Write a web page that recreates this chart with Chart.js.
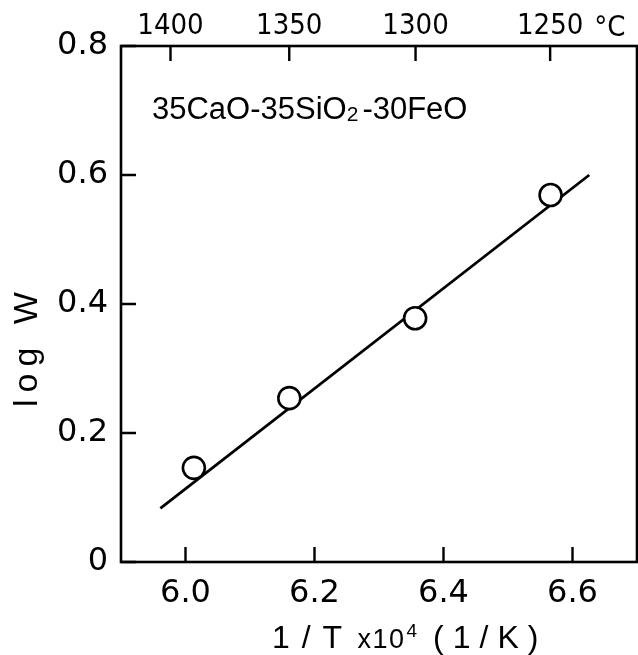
<!DOCTYPE html>
<html>
<head>
<meta charset="utf-8">
<title>log W vs 1/T</title>
<script src="https://cdn.jsdelivr.net/npm/chart.js@4.4.1/dist/chart.umd.min.js"></script>
<style>
  html, body { margin: 0; padding: 0; background: #fff; }
  canvas { display: block; }
</style>
</head>
<body>
<canvas id="arrheniusChart" width="638" height="655"></canvas>
<script>
// measured points: 1/T x10^4 (1/K) against log W
const invTemp = [6.013, 6.161, 6.356, 6.566];
const logW = [0.146, 0.254, 0.378, 0.569];

// ends of the fitted straight line
const fitInvTemp = [5.961, 6.626];
const fitLogW = [0.083, 0.600];

// tick values
const xTicks = [6.0, 6.2, 6.4, 6.6];
const yTicks = [0, 0.2, 0.4, 0.6, 0.8];
const tempTicksC = [1400, 1350, 1300, 1250];

const tickFont = { family: "'DejaVu Sans', sans-serif", size: 32 };
const topFont = { family: "'Liberation Sans Narrow', 'DejaVu Sans Condensed', 'Liberation Sans', sans-serif", size: 29 };
const TICK_LEN = 15;

function toInvTemp(c) {
    return 1e4 / (c + 273.15);
}

// draws a row of text pieces one after another (for sub/superscripts)
function drawRuns(ctx, x, y, runs) {
    runs.forEach(r => {
        ctx.font = r.size + "px 'Liberation Sans', sans-serif";
        ctx.letterSpacing = (r.spacing || 0) + "px";
        x += r.gap || 0;
        ctx.fillText(r.text, x, y - (r.rise || 0));
        x += ctx.measureText(r.text).width;
    });
}

const frameAndLabels = {
    id: "frameAndLabels",
    afterDraw(chart) {
        const { ctx, chartArea: a, scales } = chart;
        ctx.save();
        ctx.strokeStyle = "#000";
        ctx.fillStyle = "#000";
        ctx.lineWidth = 2.6;
        ctx.strokeRect(a.left, a.top, a.right - a.left, a.bottom - a.top);

        // tick marks point into the plot
        ctx.beginPath();
        scales.x.ticks.forEach(t => {
            const px = scales.x.getPixelForValue(t.value);
            ctx.moveTo(px, a.bottom);
            ctx.lineTo(px, a.bottom - TICK_LEN);
        });
        scales.x2.ticks.forEach(t => {
            const px = scales.x2.getPixelForValue(t.value);
            ctx.moveTo(px, a.top);
            ctx.lineTo(px, a.top + TICK_LEN);
        });
        scales.y.ticks.forEach(t => {
            const py = scales.y.getPixelForValue(t.value);
            ctx.moveTo(a.left, py);
            ctx.lineTo(a.left + TICK_LEN, py);
        });
        ctx.lineWidth = 2.4;
        ctx.stroke();

        ctx.textAlign = "left";
        ctx.textBaseline = "alphabetic";

        // unit after the last temperature
        const lastT = scales.x2.getPixelForValue(toInvTemp(tempTicksC[tempTicksC.length - 1]));
        ctx.font = topFont.size + "px " + topFont.family;
        ctx.fillText("°C", lastT + 44, 36);

        // composition
        drawRuns(ctx, a.left + 31, 119, [
            { text: "35CaO-35SiO", size: 31 },
            { text: "2", size: 21, rise: -2 },
            { text: "-30FeO", size: 31, gap: 4 }
        ]);

        // x axis title
        drawRuns(ctx, a.left + 151, 648, [
            { text: "1 / T", size: 32, spacing: 1.5 },
            { text: "x10", size: 27, spacing: 1.5, gap: 14 },
            { text: "4", size: 19, rise: 11, gap: 1 },
            { text: "(1/K)", size: 32, spacing: 9, gap: 16 }
        ]);

        // y axis title
        ctx.translate(37, 407);
        ctx.rotate(-Math.PI / 2);
        ctx.font = "34px 'Liberation Sans', sans-serif";
        ctx.letterSpacing = "7px";
        ctx.fillText("log W", 0, 0);
        ctx.restore();
    }
};

const points = invTemp.map((x, i) => ({ x: x, y: logW[i] }));
const fitLine = fitInvTemp.map((x, i) => ({ x: x, y: fitLogW[i] }));

const ctx = document.getElementById("arrheniusChart").getContext("2d");
new Chart(ctx, {
    type: "scatter",
    data: {
        datasets: [
            {
                label: "log W",
                data: points,
                pointStyle: "circle",
                pointRadius: 11,
                pointBorderWidth: 2.6,
                pointBackgroundColor: "#fff",
                pointBorderColor: "#000"
            },
            {
                label: "fit",
                data: fitLine,
                showLine: true,
                borderColor: "#000",
                borderWidth: 2.8,
                pointRadius: 0
            }
        ]
    },
    options: {
        responsive: false,
        animation: false,
        events: [],
        layout: { autoPadding: false, padding: { left: 0, right: 1, top: 0, bottom: 0 } },
        plugins: {
            legend: { display: false },
            tooltip: { enabled: false }
        },
        scales: {
            x: {
                type: "linear",
                position: "bottom",
                min: 5.9,
                max: 6.7,
                afterBuildTicks: s => { s.ticks = xTicks.map(v => ({ value: v })); },
                afterFit: s => { s.height = 93; s.paddingLeft = 0; s.paddingRight = 0; },
                grid: { display: false, drawTicks: false },
                border: { display: false },
                ticks: {
                    color: "#000",
                    font: tickFont,
                    padding: 12,
                    maxRotation: 0,
                    callback: v => v.toFixed(1)
                }
            },
            x2: {
                type: "linear",
                position: "top",
                min: 5.9,
                max: 6.7,
                afterBuildTicks: s => { s.ticks = tempTicksC.map(c => ({ value: toInvTemp(c) })); },
                afterFit: s => { s.height = 46; s.paddingLeft = 0; s.paddingRight = 0; },
                grid: { display: false, drawTicks: false },
                border: { display: false },
                ticks: {
                    color: "#000",
                    font: topFont,
                    padding: 2,
                    maxRotation: 0,
                    callback: (v, i) => String(tempTicksC[i])
                }
            },
            y: {
                type: "linear",
                position: "left",
                min: 0,
                max: 0.8,
                afterBuildTicks: s => { s.ticks = yTicks.map(v => ({ value: v })); },
                afterFit: s => { s.width = 121; s.paddingTop = 0; s.paddingBottom = 0; },
                grid: { display: false, drawTicks: false },
                border: { display: false },
                ticks: {
                    color: "#000",
                    font: tickFont,
                    padding: 13,
                    callback: v => v === 0 ? "0" : v.toFixed(1)
                }
            }
        }
    },
    plugins: [frameAndLabels]
});
</script>
</body>
</html>
